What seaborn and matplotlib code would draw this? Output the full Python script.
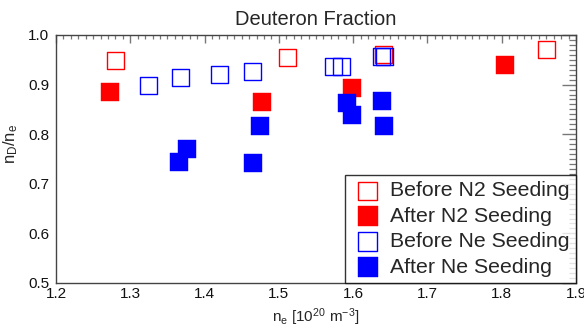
import matplotlib
matplotlib.use("Agg")
import matplotlib.pyplot as plt
import seaborn as sns
import pandas as pd
from matplotlib.ticker import MultipleLocator

before_n2_x = [1.280, 1.511, 1.641, 1.860]
before_n2_y = [0.948, 0.954, 0.961, 0.971]
after_n2_x = [1.273, 1.477, 1.598, 1.805]
after_n2_y = [0.886, 0.865, 0.893, 0.940]
before_ne_x = [1.324, 1.367, 1.420, 1.464, 1.573, 1.584, 1.638, 1.642]
before_ne_y = [0.898, 0.915, 0.921, 0.926, 0.936, 0.936, 0.956, 0.957]
after_ne_x = [1.365, 1.376, 1.465, 1.475, 1.592, 1.598, 1.639, 1.642]
after_ne_y = [0.744, 0.771, 0.741, 0.816, 0.863, 0.839, 0.866, 0.816]

labels = ["Before N2 Seeding", "After N2 Seeding", "Before Ne Seeding", "After Ne Seeding"]
x_ticks = [1.2, 1.3, 1.4, 1.5, 1.6, 1.7, 1.8, 1.9]
y_ticks = [0.5, 0.6, 0.7, 0.8, 0.9, 1.0]

sns.set_style("white")
plt.rcParams['font.family'] = ['Liberation Sans', 'DejaVu Sans']
plt.rcParams['mathtext.fontset'] = 'custom'
plt.rcParams['mathtext.rm'] = 'Liberation Sans'
plt.rcParams['mathtext.it'] = 'Liberation Sans'

fig = plt.figure(figsize=(5.84, 3.29), dpi=100)
ax = fig.add_axes([56/584, 1-283/329, 520/584, 248/329])

groups = [
    (before_n2_x, before_n2_y, "red", True),
    (after_n2_x, after_n2_y, "red", False),
    (before_ne_x, before_ne_y, "blue", True),
    (after_ne_x, after_ne_y, "blue", False),
]
for (xs, ys, col, hollow), lab in zip(groups, labels):
    df = pd.DataFrame({"ne": xs, "frac": ys})
    if hollow:
        sns.scatterplot(data=df, x="ne", y="frac", marker="s", s=150,
                        facecolors="none", edgecolor=col, linewidth=1.0,
                        label=lab, ax=ax)
    else:
        sns.scatterplot(data=df, x="ne", y="frac", marker="s", s=160,
                        color=col, edgecolor=col, linewidth=0.3,
                        label=lab, ax=ax)

ax.set_xlim(1.2, 1.9)
ax.set_ylim(0.5, 1.0)
ax.set_xticks(x_ticks)
ax.set_yticks(y_ticks)
ax.set_xticklabels([f"{v:.1f}" for v in x_ticks])
ax.set_yticklabels([f"{v:.1f}" for v in y_ticks])
ax.xaxis.set_minor_locator(MultipleLocator(0.01))
ax.yaxis.set_minor_locator(MultipleLocator(0.01))
ax.tick_params(which='both', direction='in', top=True, right=True,
               color='#777777', labelsize=11, labelcolor='#111111')
ax.tick_params(axis='y', which='major', length=10, width=1, pad=5)
ax.tick_params(axis='y', which='minor', length=5, width=0.9)
ax.tick_params(axis='x', which='major', length=6, width=1, pad=3)
ax.tick_params(axis='x', which='minor', length=3, width=0.9)
for sp in ax.spines.values():
    sp.set_color('#444444')
    sp.set_linewidth(1.0)

ax.set_title("Deuteron Fraction", fontsize=14.5, pad=7)
ax.set_xlabel(r"n$_\mathrm{e}$ [10$^{20}$ m$^{-3}$]", fontsize=11, labelpad=4)
ax.set_ylabel(r"n$_\mathrm{D}$/n$_\mathrm{e}$", fontsize=12)
ax.yaxis.set_label_coords(-0.07, 0.56)

leg = ax.legend(loc='lower right', borderaxespad=0, fancybox=False,
                frameon=True, fontsize=15.3, handletextpad=0.29,
                labelspacing=0.3, borderpad=0.3, handlelength=1.53,
                markerscale=1.1)
leg.get_frame().set_edgecolor('black')
leg.get_frame().set_linewidth(1.0)

fig.savefig("out.png", dpi=100)
